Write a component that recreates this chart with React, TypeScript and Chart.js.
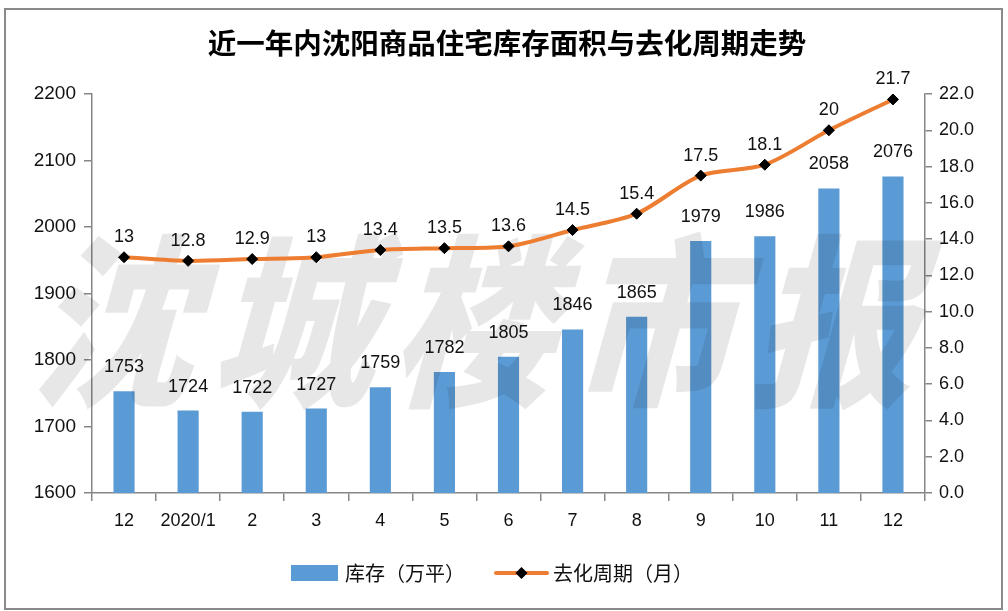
import React, { useEffect, useRef } from "react";
import { Chart, registerables } from "chart.js";

Chart.register(...registerables);

const chartTitle = "近一年内沈阳商品住宅库存面积与去化周期走势";
const categories = ["12", "2020/1", "2", "3", "4", "5", "6", "7", "8", "9", "10", "11", "12"];
const inventory = [1753, 1724, 1722, 1727, 1759, 1782, 1805, 1846, 1865, 1979, 1986, 2058, 2076];
const cycle = [13, 12.8, 12.9, 13, 13.4, 13.5, 13.6, 14.5, 15.4, 17.5, 18.1, 20, 21.7];
const barName = "库存（万平）";
const lineName = "去化周期（月）";
const watermarkChars = ["沈", "城", "楼", "市", "报"];
const leftMin = 1600;
const leftMax = 2200;
const leftStep = 100;
const rightMin = 0;
const rightMax = 22;
const rightStep = 2;

const BAR_COLOR = "#5b9bd5";
const LINE_COLOR = "#ed7d31";
const AXIS_COLOR = "#868686";
const TEXT_COLOR = "#111";
const NUM_FONT = "'Liberation Sans', 'DejaVu Sans', sans-serif";
const CJK_FONT = "'Noto Sans CJK SC', sans-serif";

const decorPlugin = {
  id: "decor",
  beforeDraw(chart: any) {
    const ctx = chart.ctx;
    ctx.save();
    ctx.fillStyle = "#fff";
    ctx.fillRect(0, 0, chart.width, chart.height);
    ctx.strokeStyle = "#8a8a8a";
    ctx.lineWidth = 2;
    ctx.strokeRect(5, 9, 997, 600);
    // title
    ctx.fillStyle = "#000";
    ctx.font = `bold 28.5px ${CJK_FONT}`;
    ctx.textAlign = "center";
    ctx.textBaseline = "middle";
    ctx.fillText(chartTitle, 507, 43);
    ctx.restore();
  },
  afterDatasetDraw(chart: any, args: any) {
    if (args.index !== 0) return;
    const ctx = chart.ctx;
    ctx.save();
    ctx.fillStyle = "rgba(0,0,0,0.095)";
    ctx.font = `900 185px ${CJK_FONT}`;
    ctx.textAlign = "center";
    ctx.textBaseline = "middle";
    watermarkChars.forEach((ch, i) => {
      ctx.save();
      const cx = 130 + i * 180;
      const cy = 322;
      ctx.translate(cx, cy);
      ctx.transform(0.88, 0, -0.28, 1, 0, 0);
      ctx.fillText(ch, 0, 0);
      ctx.restore();
    });
    ctx.restore();
  },
  afterDatasetsDraw(chart: any) {
    const ctx = chart.ctx;
    ctx.save();
    ctx.fillStyle = TEXT_COLOR;
    ctx.font = `18px ${NUM_FONT}`;
    ctx.textAlign = "center";
    ctx.textBaseline = "middle";
    const barMeta = chart.getDatasetMeta(0);
    barMeta.data.forEach((el: any, i: number) => {
      ctx.fillText(String(inventory[i]), el.x, el.y - 24);
    });
    const lineMeta = chart.getDatasetMeta(1);
    lineMeta.data.forEach((el: any, i: number) => {
      ctx.fillText(String(cycle[i]), el.x, el.y - 20);
    });
    ctx.restore();
  },
  afterDraw(chart: any) {
    // legend
    const ctx = chart.ctx;
    ctx.save();
    const ly = 573;
    ctx.fillStyle = BAR_COLOR;
    ctx.fillRect(291, ly - 8, 47, 16);
    ctx.fillStyle = TEXT_COLOR;
    ctx.font = `20px ${CJK_FONT}`;
    ctx.textAlign = "left";
    ctx.textBaseline = "middle";
    ctx.fillText(barName, 345, ly);
    ctx.strokeStyle = LINE_COLOR;
    ctx.lineWidth = 4;
    ctx.lineCap = "round";
    ctx.beginPath();
    ctx.moveTo(496, ly);
    ctx.lineTo(547, ly);
    ctx.stroke();
    ctx.fillStyle = "#000";
    ctx.beginPath();
    ctx.moveTo(521.5, ly - 6);
    ctx.lineTo(527.5, ly);
    ctx.lineTo(521.5, ly + 6);
    ctx.lineTo(515.5, ly);
    ctx.closePath();
    ctx.fill();
    ctx.fillStyle = TEXT_COLOR;
    ctx.fillText(lineName, 553, ly);
    ctx.restore();
  },
};

export default function App() {
  const ref = useRef<HTMLCanvasElement | null>(null);
  useEffect(() => {
    if (!ref.current) return;
    const chart = new Chart(ref.current, {
      type: "bar",
      data: {
        labels: categories,
        datasets: [
          {
            type: "bar",
            label: barName,
            data: inventory,
            backgroundColor: BAR_COLOR,
            yAxisID: "y",
            barPercentage: 0.33,
            categoryPercentage: 1,
            order: 2,
          },
          {
            type: "line",
            label: lineName,
            data: cycle,
            yAxisID: "y1",
            borderColor: LINE_COLOR,
            borderWidth: 4,
            tension: 0.3,
            pointStyle: "rectRot",
            pointRadius: 5.5,
            pointBackgroundColor: "#000",
            pointBorderColor: "#000",
            pointBorderWidth: 1,
            order: 1,
          } as any,
        ],
      },
      options: {
        animation: false,
        responsive: true,
        maintainAspectRatio: false,
        layout: { padding: { top: 94, left: 0, right: 0, bottom: 0 } },
        plugins: {
          legend: { display: false },
          title: { display: false },
          tooltip: { enabled: false },
        },
        scales: {
          x: {
            grid: {
              offset: true,
              drawOnChartArea: false,
              drawTicks: true,
              tickLength: 8,
              color: AXIS_COLOR,
              lineWidth: 1.5,
            },
            border: { color: AXIS_COLOR, width: 1.5 },
            ticks: {
              color: TEXT_COLOR,
              font: { size: 18, family: NUM_FONT },
              padding: 9,
              maxRotation: 0,
              autoSkip: false,
            },
            afterFit: (scale: any) => {
              scale.height = 118;
            },
          },
          y: {
            position: "left",
            min: leftMin,
            max: leftMax,
            grid: {
              drawOnChartArea: false,
              tickLength: 8,
              color: AXIS_COLOR,
              lineWidth: 1.5,
            },
            border: { color: AXIS_COLOR, width: 1.5 },
            ticks: {
              stepSize: leftStep,
              color: TEXT_COLOR,
              font: { size: 19, family: NUM_FONT },
              padding: 8,
              callback: (v: any) => String(v),
            },
            afterFit: (scale: any) => {
              scale.width = 92;
            },
          },
          y1: {
            position: "right",
            min: rightMin,
            max: rightMax,
            grid: {
              drawOnChartArea: false,
              tickLength: 7,
              color: AXIS_COLOR,
              lineWidth: 1.5,
            },
            border: { color: AXIS_COLOR, width: 1.5 },
            ticks: {
              stepSize: rightStep,
              color: TEXT_COLOR,
              font: { size: 18, family: NUM_FONT },
              padding: 7,
              callback: (v: any) => Number(v).toFixed(1),
            },
            afterFit: (scale: any) => {
              scale.width = 83;
            },
          },
        },
      },
      plugins: [decorPlugin],
    });
    return () => chart.destroy();
  }, []);
  return (
    <div style={{ position: "fixed", left: 0, top: 0, width: 1008, height: 611, background: "#fff" }}>
      <canvas ref={ref} />
    </div>
  );
}
